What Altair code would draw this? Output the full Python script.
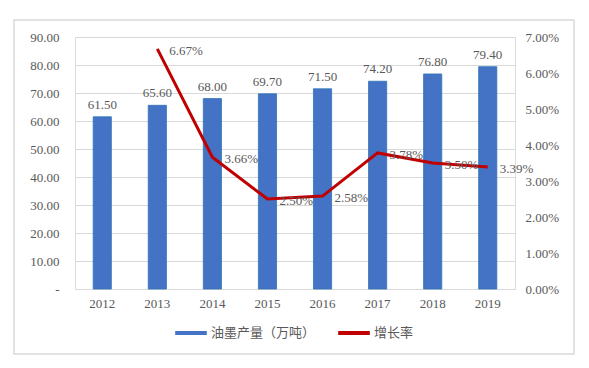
import altair as alt
import pandas as pd

years = ["2012", "2013", "2014", "2015", "2016", "2017", "2018", "2019"]
output = [61.50, 65.60, 68.00, 69.70, 71.50, 74.20, 76.80, 79.40]
growth_years = ["2013", "2014", "2015", "2016", "2017", "2018", "2019"]
growth = [6.67, 3.66, 2.50, 2.58, 3.78, 3.50, 3.39]
left_ticks = [0, 10, 20, 30, 40, 50, 60, 70, 80, 90]
right_ticks = [0, 0.01, 0.02, 0.03, 0.04, 0.05, 0.06, 0.07]

s1 = "油墨产量（万吨）"
s2 = "增长率"

bars_df = pd.DataFrame({"year": years, "value": output, "series": s1})
line_df = pd.DataFrame({"year": growth_years, "rate": [g / 100 for g in growth], "series": s2})

FONT = "Liberation Serif"
GRAY = "#595959"

color = alt.Color(
    "series:N",
    scale=alt.Scale(domain=[s1, s2], range=["#4472C4", "#C00000"]),
    legend=alt.Legend(
        title=None, orient="none", direction="horizontal", legendX=98, legendY=278,
        symbolType="stroke", symbolStrokeWidth=4, symbolSize=1000,
        labelFont="Noto Sans CJK SC", labelFontSize=13, labelColor=GRAY, columnPadding=14,
        labelOffset=2,
    ),
)

x = alt.X("year:N", title=None, sort=years,
          scale=alt.Scale(paddingInner=0.67, paddingOuter=0.33),
          axis=alt.Axis(labelAngle=0, labelFont=FONT, labelFontSize=13, labelColor=GRAY,
                        domainColor="#d9d9d9", ticks=False, labelPadding=8))

yl = alt.Y("value:Q", title=None, scale=alt.Scale(domain=[0, 90]),
           axis=alt.Axis(values=left_ticks, labelOverlap=False, tickCount=10,
                         labelExpr="datum.value == 0 ? '-' : format(datum.value, '.2f')",
                         labelFont=FONT, labelFontSize=13, labelColor=GRAY,
                         domain=False, ticks=False, gridColor="#d9d9d9", labelPadding=16))
yr = alt.Y("rate:Q", title=None, scale=alt.Scale(domain=[0, 0.07]),
           axis=alt.Axis(orient="right", format=".2%", values=right_ticks, tickCount=8,
                         labelOverlap=False,
                         labelFont=FONT, labelFontSize=13, labelColor=GRAY,
                         domain=False, ticks=False, grid=False, labelPadding=10))

bars = alt.Chart(bars_df).mark_bar(stroke="#2E75B6", strokeWidth=0.8).encode(
    x=x, y=yl, color=color,
)
bar_text = alt.Chart(bars_df).mark_text(dy=-12, font=FONT, fontSize=13, color=GRAY).encode(
    x=x, y=yl,
    text=alt.Text("value:Q", format=".2f"),
)
frame = alt.Chart(bars_df).mark_rect(fill=None, stroke="#d9d9d9", strokeWidth=1.5).encode(
    x=alt.value(-61), x2=alt.value(499), y=alt.value(-17), y2=alt.value(317)
).transform_filter(alt.datum.year == "2012")
left = alt.layer(frame, bars, bar_text)

line = alt.Chart(line_df).mark_line(strokeWidth=3).encode(
    x=x, y=yr, color=color,
)
line_text = alt.Chart(line_df).mark_text(align="left", dx=12, dy=2, font=FONT, fontSize=13, color=GRAY).encode(
    x=x, y=yr,
    text=alt.Text("rate:Q", format=".2%"),
)
right = alt.layer(line, line_text)

chart = alt.layer(left, right).resolve_scale(y="independent").properties(
    width=440, height=252,
    padding={"left": 5, "top": 11, "right": 5, "bottom": 5},
).configure_view(stroke=None).configure(background="white")

chart.save("out.html", embed_options={"renderer": "svg", "actions": False})
